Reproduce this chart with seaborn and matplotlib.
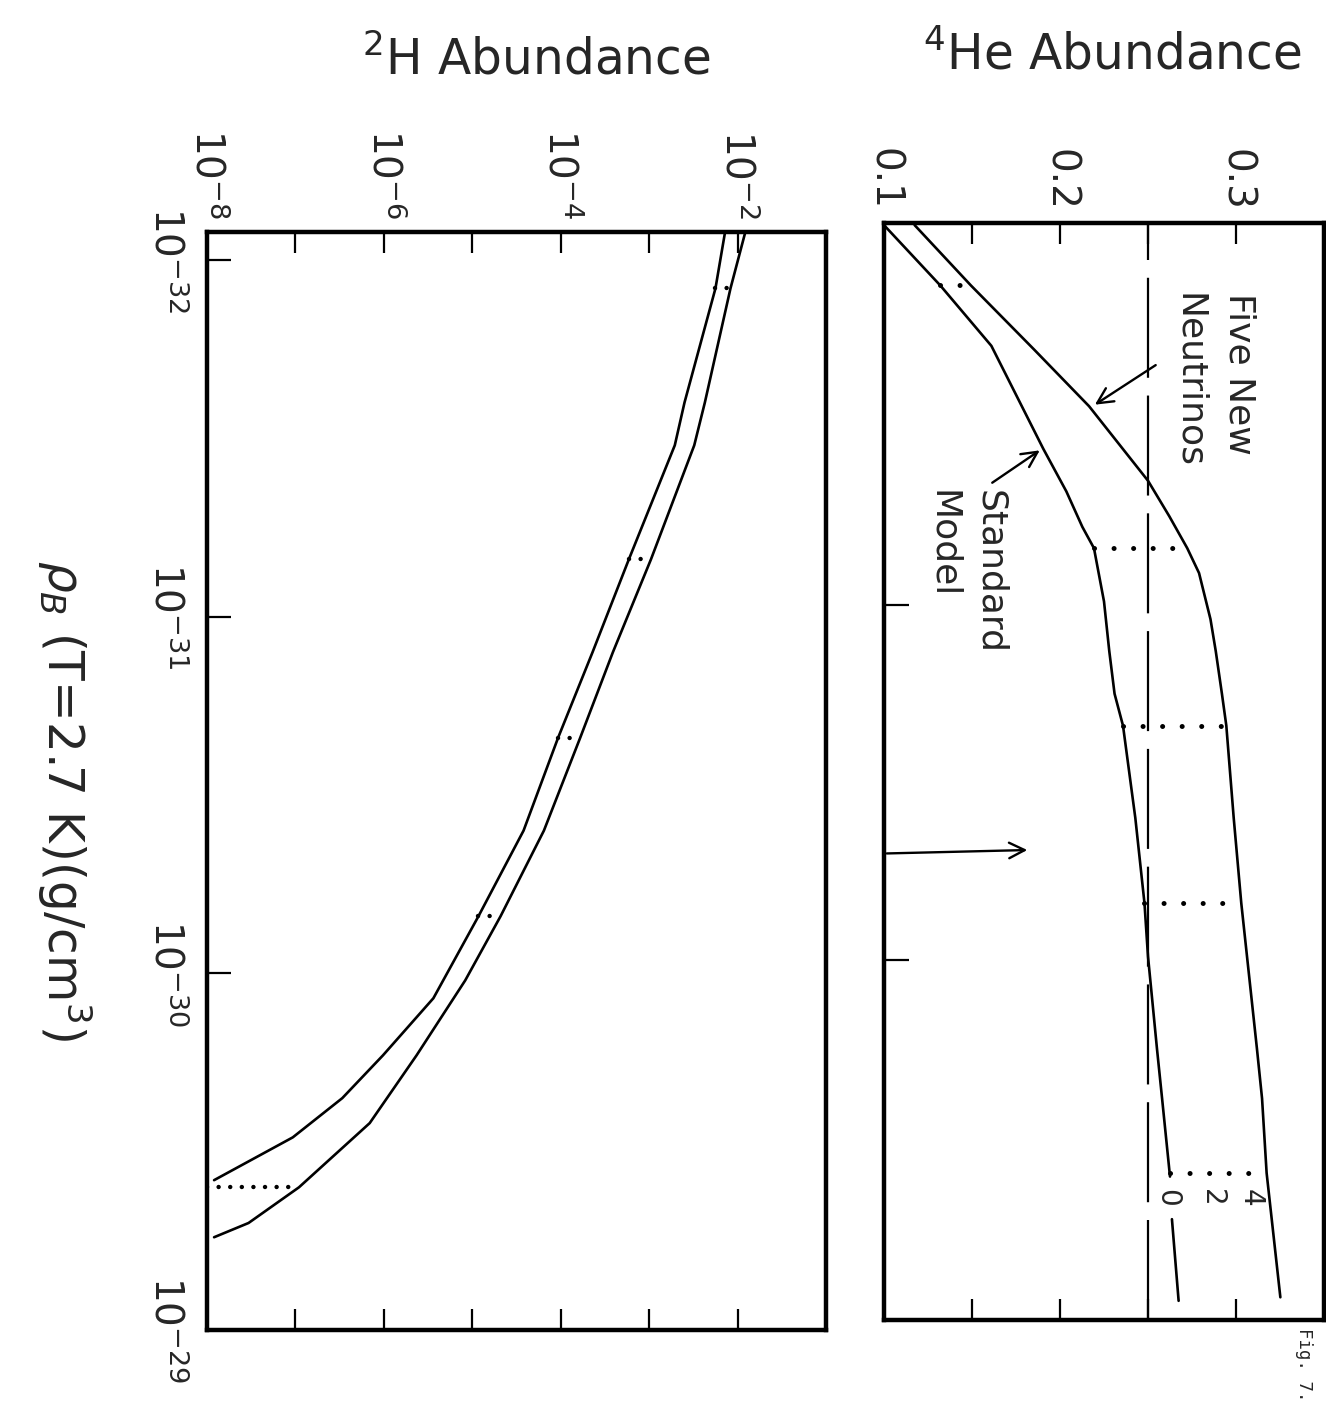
import numpy as np
import matplotlib
matplotlib.use("Agg")
import matplotlib.pyplot as plt
import matplotlib.ticker as mticker
import seaborn as sns

# ─── data (log10 rho_B in g/cm^3 on the shared axis) ─────────────────────────
# 2H abundance, the two calculated curves (log10 of abundance)
H2_A_RHO = [-32.08, -31.92, -31.60, -31.48, -31.16, -30.90, -30.66, -30.40,
            -30.16, -29.93, -29.77, -29.65, -29.54, -29.42]
H2_A_LOGD = [-2.14, -2.25, -2.60, -2.71, -3.23, -3.64, -4.03, -4.42,
             -4.93, -5.44, -6.01, -6.47, -7.03, -7.92]
H2_B_RHO = [-32.08, -31.92, -31.60, -31.48, -31.16, -30.90, -30.66, -30.40,
            -30.16, -29.98, -29.77, -29.58, -29.40, -29.30, -29.26]
H2_B_LOGD = [-1.91, -2.08, -2.37, -2.49, -2.98, -3.41, -3.78, -4.19,
             -4.68, -5.08, -5.63, -6.16, -6.96, -7.53, -7.92]
H2_DOT_RHO = [-31.92, -31.16, -30.66, -30.16, -29.40]
H2_DOT_LEFT = [-2.25, -3.23, -4.03, -4.93, -8.00]
H2_DOT_RIGHT = [-2.08, -2.98, -3.78, -4.68, -6.96]

# 4He abundance: standard model and five new neutrinos
HE_STD_RHO = [-32.07, -31.90, -31.73, -31.44, -31.32, -31.22, -31.16, -31.01,
              -30.87, -30.75, -30.66, -30.40, -30.16, -30.01, -29.75, -29.61, -29.39]
HE_STD_Y = [0.100, 0.132, 0.161, 0.1905, 0.2036, 0.2127, 0.2193, 0.2250,
            0.2280, 0.2310, 0.2358, 0.2428, 0.2480, 0.2500, 0.2551, 0.2580, 0.2625]
HE_STD_TAIL_RHO = [-29.27, -29.04]
HE_STD_TAIL_Y = [0.2636, 0.2674]
HE_FIVE_RHO = [-32.07, -31.90, -31.72, -31.56, -31.35, -31.25, -31.16, -31.09, -30.96,
               -30.87, -30.75, -30.66, -30.40, -30.16, -29.75, -29.61, -29.40, -29.05]
HE_FIVE_Y = [0.1174, 0.1494, 0.1852, 0.2165, 0.2500, 0.2621, 0.2723, 0.2790, 0.2855,
             0.2885, 0.2920, 0.2945, 0.2987, 0.3030, 0.3119, 0.3148, 0.3174, 0.3252]
HE_DOT_RHO = [-31.90, -31.16, -30.66, -30.16, -29.40]
HE_DOT_LEFT = [0.132, 0.2193, 0.2358, 0.248, 0.2625]
HE_DOT_RIGHT = [0.1494, 0.2723, 0.2945, 0.303, 0.3174]
HE_LIMIT = 0.25

# tick positions / labels
RHO_TICKS = [-32, -31, -30, -29]
HE_RHO_TICKS = [-31, -30]
H2_TICKS = [-8, -7, -6, -5, -4, -3, -2, -1]
H2_LABELLED = [-8, -6, -4, -2]
HE_TICKS = [0.1, 0.15, 0.2, 0.25, 0.3]
HE_LABELS = ["0.1", "", "0.2", "", "0.3"]

W, H = 1326, 1404
sns.set_theme(style="white")
plt.rcParams["font.family"] = ["DejaVu Sans"]
plt.rcParams["mathtext.fontset"] = "dejavusans"


def box(l, t, r, b):
    return [l / W, 1 - b / H, (r - l) / W, (b - t) / H]


def pw(v):
    return 10.0 ** np.asarray(v)


fig = plt.figure(figsize=(W / 100, H / 100), dpi=100, facecolor="white")
ax_d = fig.add_axes(box(207, 232, 826, 1330))
ax_he = fig.add_axes(box(884, 223, 1324, 1320))

LW = 1.9
# ─── 2H panel ────────────────────────────────────────────────────────────────
sns.lineplot(x=pw(H2_A_LOGD), y=pw(H2_A_RHO), sort=False, estimator=None,
             color="black", lw=LW, ax=ax_d)
sns.lineplot(x=pw(H2_B_LOGD), y=pw(H2_B_RHO), sort=False, estimator=None,
             color="black", lw=LW, ax=ax_d)
for r, a, b in zip(H2_DOT_RHO, H2_DOT_LEFT, H2_DOT_RIGHT):
    ax_d.plot(pw([a, b]), pw([r, r]), color="black", lw=3.2,
              linestyle=(0, (0.01, 2.6)), dash_capstyle="round")

ax_d.set_xscale("log")
ax_d.set_yscale("log")
ax_d.set_xlim(1e-8, 1e-1)
ax_d.set_ylim(10 ** -29, 10 ** -32.078)
ax_d.xaxis.set_major_locator(mticker.FixedLocator(pw(H2_TICKS)))
ax_d.xaxis.set_minor_locator(mticker.NullLocator())
ax_d.xaxis.set_major_formatter(mticker.FixedFormatter(
    [f"$10^{{{t}}}$" if t in H2_LABELLED else "" for t in H2_TICKS]))
ax_d.yaxis.set_major_locator(mticker.FixedLocator(pw(RHO_TICKS)))
ax_d.yaxis.set_minor_locator(mticker.NullLocator())
ax_d.yaxis.set_major_formatter(mticker.FixedFormatter([f"$10^{{{t}}}$" for t in RHO_TICKS]))
ax_d.tick_params(axis="x", direction="in", length=15, width=1.6, color="black",
                 top=True, bottom=True, labeltop=True, labelbottom=False,
                 labelrotation=-90, labelsize=28, pad=9)
ax_d.tick_params(axis="y", direction="in", length=17, width=1.6, color="black",
                 left=True, right=False, labelleft=True, labelrotation=-90,
                 labelsize=28, pad=15)
for lab in ax_d.get_yticklabels():
    lab.set_va("center")

# ─── 4He panel ───────────────────────────────────────────────────────────────
ax_he.axvline(HE_LIMIT, color="black", lw=1.6, dashes=(45, 8))
sns.lineplot(x=HE_STD_Y, y=pw(HE_STD_RHO), sort=False, estimator=None,
             color="black", lw=LW, ax=ax_he)
sns.lineplot(x=HE_STD_TAIL_Y, y=pw(HE_STD_TAIL_RHO), sort=False, estimator=None,
             color="black", lw=LW, ax=ax_he)
sns.lineplot(x=HE_FIVE_Y, y=pw(HE_FIVE_RHO), sort=False, estimator=None,
             color="black", lw=LW, ax=ax_he)
for r, a, b in zip(HE_DOT_RHO, HE_DOT_LEFT, HE_DOT_RIGHT):
    ax_he.plot([a, b], pw([r, r]), color="black", lw=3.6,
               linestyle=(0, (0.01, 3.9)), dash_capstyle="round")

ax_he.set_yscale("log")
ax_he.set_xlim(0.1, 0.35)
ax_he.set_ylim(10 ** -28.986, 10 ** -32.076)
ax_he.xaxis.set_major_locator(mticker.FixedLocator(HE_TICKS))
ax_he.xaxis.set_major_formatter(mticker.FixedFormatter(HE_LABELS))
ax_he.yaxis.set_major_locator(mticker.FixedLocator(pw(HE_RHO_TICKS)))
ax_he.yaxis.set_minor_locator(mticker.NullLocator())
ax_he.tick_params(axis="x", direction="in", length=15, width=1.6, color="black",
                  top=True, bottom=True, labeltop=True, labelbottom=False,
                  labelrotation=-90, labelsize=28, pad=9)
ax_he.tick_params(axis="y", direction="in", length=18, width=1.6, color="black",
                  left=True, right=False, labelleft=False)

# annotations inside the helium panel
ax_he.text(0.2875, 10 ** -31.88, "Five New\nNeutrinos", rotation=-90,
           ha="center", va="top", multialignment="left", fontsize=26, linespacing=1.6)
ax_he.annotate("", xy=(0.2185, 10 ** -31.56), xytext=(0.2557, 10 ** -31.68),
               arrowprops=dict(arrowstyle="->", lw=1.7, color="black", mutation_scale=28))
ax_he.text(0.147, 10 ** -31.324, "Standard\nModel", rotation=-90,
           ha="center", va="top", multialignment="left", fontsize=26, linespacing=1.5)
ax_he.annotate("", xy=(0.1898, 10 ** -31.44), xytext=(0.1602, 10 ** -31.34),
               arrowprops=dict(arrowstyle="->", lw=1.7, color="black", mutation_scale=28))
ax_he.annotate("", xy=(0.183, 10 ** -30.31), xytext=(0.1, 10 ** -30.30),
               arrowprops=dict(arrowstyle="->", lw=1.7, color="black", mutation_scale=28))
for lbl, xv in zip(["0", "2", "4"], [0.261, 0.2866, 0.3083]):
    ax_he.text(xv, 10 ** -29.33, lbl, rotation=-90, ha="center", va="center", fontsize=20)

for ax in (ax_d, ax_he):
    ax.set_facecolor("white")
    ax.grid(False)
    ax.set_xlabel("")
    ax.set_ylabel("")
    for sp in ax.spines.values():
        sp.set_visible(True)
        sp.set_color("black")
        sp.set_linewidth(3.2)

# ─── titles / axis label / caption ───────────────────────────────────────────
fig.text(536 / W, 1 - 60 / H, "$^2$H Abundance", ha="center", va="center", fontsize=35)
fig.text(1112 / W, 1 - 55 / H, "$^4$He Abundance", ha="center", va="center", fontsize=35)
fig.text(64 / W, 1 - 800 / H, r"$\rho_B$ (T=2.7 K)(g/cm$^3$)", rotation=-90,
         ha="center", va="center", fontsize=35)
fig.text(1304 / W, 1 - 1328 / H, "Fig. 7.", rotation=-90, ha="center", va="top",
         fontsize=12.5, family="DejaVu Sans Mono")

fig.savefig("out.png", dpi=100, facecolor="white")
